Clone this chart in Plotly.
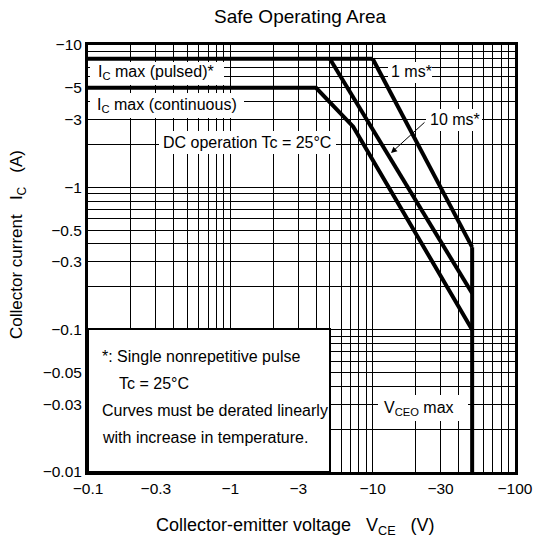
import numpy as np
import plotly.graph_objects as go

# ---- data ----
pulsed_x = [0.1, 10]
pulsed_y = [8, 8]
ms1_x = [10, 50]
ms1_y = [8, 0.38]
ms10_x = [5, 50]
ms10_y = [8, 0.18]
dc_x = [0.1, 4, 7.3, 50]
dc_y = [5, 5, 2.67, 0.1]
vceo_x = [50, 50]
vceo_y = [0.38, 0.01]

x_tickvals = [0.1, 0.3, 1, 3, 10, 30, 100]
x_ticktext = ["\u22120.1", "\u22120.3", "\u22121", "\u22123", "\u221210", "\u221230", "\u2212100"]
y_tickvals = [10, 5, 3, 1, 0.5, 0.3, 0.1, 0.05, 0.03, 0.01]
y_ticktext = ["\u221210", "\u22125", "\u22123", "\u22121", "\u22120.5", "\u22120.3",
              "\u22120.1", "\u22120.05", "\u22120.03", "\u22120.01"]

x_minor = [m * 10.0 ** d for d in (-1, 0, 1) for m in range(1, 10)] + [100]
y_minor = [m * 10.0 ** d for d in (-2, -1, 0) for m in range(1, 10)] + [10]

FONT = "Arial, Liberation Sans, sans-serif"
W, H = 534, 544
L, R, T, B = 88, 515, 45, 472

def px(xp):
    return (xp - L) / (R - L)

def py(yp):
    return (B - yp) / (B - T)

fig = go.Figure()
line = dict(color="black", width=4)
for xs, ys in [(pulsed_x, pulsed_y), (ms1_x, ms1_y), (ms10_x, ms10_y), (dc_x, dc_y), (vceo_x, vceo_y)]:
    fig.add_trace(go.Scatter(x=xs, y=ys, mode="lines", line=line, showlegend=False, hoverinfo="skip"))

# white label boxes hiding the grid
boxes = [(90, 62, 224, 85), (90, 93, 244, 118), (159, 131, 336, 154),
         (388, 62, 432, 83), (426, 109, 482, 131), (378, 395, 468, 421)]
shapes = []
for x0, y0, x1, y1 in boxes:
    shapes.append(dict(type="rect", xref="paper", yref="paper", x0=px(x0), x1=px(x1),
                       y0=py(y1), y1=py(y0), fillcolor="white", line=dict(width=0), layer="above"))
shapes.append(dict(type="rect", xref="paper", yref="paper", x0=px(88), x1=px(330),
                   y0=py(472), y1=py(329), fillcolor="white",
                   line=dict(color="black", width=2), layer="above"))

ann = []
def txt(s, xp, yp, size=16, xanchor="left"):
    ann.append(dict(text=s, x=px(xp), y=py(yp), xref="paper", yref="paper", showarrow=False,
                    xanchor=xanchor, yanchor="middle", font=dict(family=FONT, size=size, color="black")))

txt("I<sub>C</sub> max (pulsed)*", 96, 73)
txt("I<sub>C</sub> max (continuous)", 95, 105)
txt("DC operation Tc = 25°C", 161, 142)
txt("1 ms*", 389, 72)
txt("10 ms*", 428, 120)
txt("V<sub>CEO</sub> max", 382, 408)
txt("*: Single nonrepetitive pulse", 100, 357)
txt("Tc = 25°C", 117, 383)
txt("Curves must be derated linearly", 100, 410)
txt("with increase in temperature.", 100, 437)

# arrow for 10 ms
ann.append(dict(text="", x=px(391), y=py(153), xref="paper", yref="paper", showarrow=True,
                ax=35, ay=-32, arrowhead=2, arrowsize=1.2, arrowwidth=1, arrowcolor="black"))

# titles
txt("Safe Operating Area", 300, 17, 19, "center")
txt("Collector-emitter voltage\u00a0\u00a0\u00a0V<sub>CE</sub>\u00a0\u00a0\u00a0(V)", 295, 526, 18, "center")
ann.append(dict(text="Collector current\u00a0\u00a0\u00a0I<sub>C</sub>\u00a0\u00a0\u00a0(A)", x=px(18), y=py(245),
                xref="paper", yref="paper", showarrow=False, textangle=-90, xanchor="center",
                yanchor="middle", font=dict(family=FONT, size=17, color="black")))

axis_common = dict(type="log", showgrid=True, gridcolor="black", gridwidth=1, zeroline=False,
                   showline=True, linecolor="black", linewidth=3, mirror=True, ticks="",
                   automargin=False,
                   tickfont=dict(family=FONT, size=15.5, color="black"), layer="above traces")

fig.update_layout(
    width=W, height=H,
    margin=dict(l=L, r=W - R, t=T, b=H - B, pad=0, autoexpand=False),
    paper_bgcolor="white", plot_bgcolor="white",
    xaxis=dict(range=[-1, 2], tickmode="array", tickvals=x_tickvals, ticktext=x_ticktext,
               minor=dict(tickmode="array", tickvals=x_minor, showgrid=True, gridcolor="black", gridwidth=1),
               **axis_common),
    yaxis=dict(range=[-2, 1], tickmode="array", tickvals=y_tickvals, ticktext=y_ticktext,
               minor=dict(tickmode="array", tickvals=y_minor, showgrid=True, gridcolor="black", gridwidth=1),
               **axis_common),
    shapes=shapes, annotations=ann, showlegend=False,
    font=dict(family=FONT, color="black"),
)

fig.write_html("out.html", config={"responsive": False, "displayModeBar": False},
               post_script="document.body.style.margin='0';document.body.style.padding='0';")
